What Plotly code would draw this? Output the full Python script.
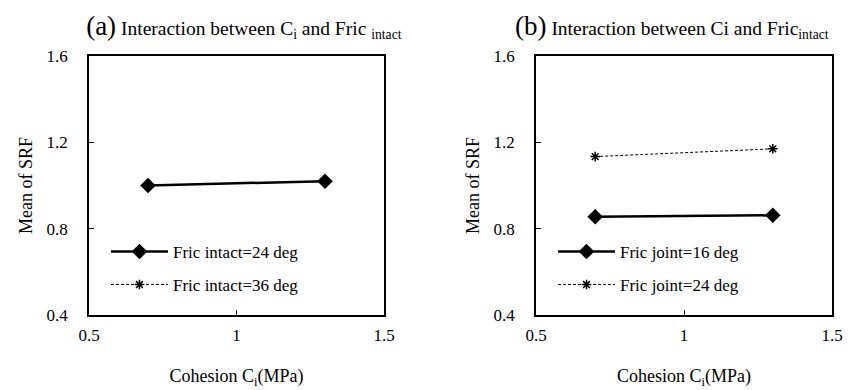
import plotly.graph_objects as go

cohesion = [0.7, 1.3]
a_fric24 = [1.00, 1.02]
a_fric36 = [1.00, 1.02]
b_joint16 = [0.855, 0.862]
b_joint24 = [1.134, 1.170]

x_ticks = [0.5, 1, 1.5]
y_ticks = [0.4, 0.8, 1.2, 1.6]

FONT = "Liberation Serif"
W, H = 854, 390
OFF = 8  # page body margin


def px(sx):
    return (sx - OFF) / W


def py(sy):
    return 1 - (sy - OFF) / H


fig = go.Figure()

solid = dict(color="black", width=2.5)
dashed = dict(color="black", width=1, dash="3px,2px")
diamond = dict(symbol="diamond", size=12, color="black")
star = dict(symbol="asterisk-open", size=8, color="black", line=dict(color="black", width=1.5))

fig.add_trace(go.Scatter(x=cohesion, y=a_fric36, mode="lines+markers", line=dashed, marker=star,
                         name="Fric intact=36 deg", xaxis="x", yaxis="y", legend="legend2"))
fig.add_trace(go.Scatter(x=cohesion, y=a_fric24, mode="lines+markers", line=solid, marker=diamond,
                         name="Fric intact=24 deg", xaxis="x", yaxis="y", legend="legend"))
fig.add_trace(go.Scatter(x=cohesion, y=b_joint16, mode="lines+markers", line=solid, marker=diamond,
                         name="Fric joint=16 deg", xaxis="x2", yaxis="y2", legend="legend3"))
fig.add_trace(go.Scatter(x=cohesion, y=b_joint24, mode="lines+markers", line=dashed, marker=star,
                         name="Fric joint=24 deg", xaxis="x2", yaxis="y2", legend="legend4"))
# empty carriers so the top (title) axes are drawn
fig.add_trace(go.Scatter(x=[None], y=[None], xaxis="x3", yaxis="y", showlegend=False, hoverinfo="skip"))
fig.add_trace(go.Scatter(x=[None], y=[None], xaxis="x4", yaxis="y2", showlegend=False, hoverinfo="skip"))

xtitle = "Cohesion C<sub>i</sub>(MPa)"
ytitle = "Mean of SRF"
title_a = ("&nbsp;&nbsp;&nbsp;<span style='font-size:27px'>(a)</span> "
           "Interaction between C<sub>i</sub> and Fric <sub>intact</sub>")
title_b = ("<span style='font-size:27px'>(b)</span> "
           "Interaction between Ci and Fric<sub>intact</sub>&nbsp;&nbsp;&nbsp;&nbsp;&nbsp;")


def xa(domain, anchor):
    return dict(domain=domain, anchor=anchor, range=[0.5, 1.5], tickvals=x_ticks,
                ticktext=["0.5", "1", "1.5"], ticks="inside", ticklen=5, tickwidth=1,
                tickcolor="black", showline=True, linecolor="black", linewidth=1.5, mirror=True,
                showgrid=False, zeroline=False, ticklabelstandoff=4, automargin=False,
                tickfont=dict(family=FONT, size=17, color="black"),
                title=dict(text=xtitle, standoff=25, font=dict(family=FONT, size=18, color="black")))


def ya(domain, anchor):
    return dict(domain=domain, anchor=anchor, range=[0.4, 1.6], tickvals=y_ticks,
                ticktext=["0.4", "0.8", "1.2", "1.6"], ticks="inside", ticklen=5, tickwidth=1,
                tickcolor="black", showline=True, linecolor="black", linewidth=1.5, mirror=True,
                showgrid=False, zeroline=False, ticklabelstandoff=16, automargin=False,
                tickfont=dict(family=FONT, size=17, color="black"),
                title=dict(text=ytitle, standoff=9, font=dict(family=FONT, size=18, color="black")))


def title_axis(over, anchor, text):
    return dict(overlaying=over, anchor=anchor, side="top", range=[0, 1], visible=True,
                showline=False, showticklabels=False, ticks="", showgrid=False, zeroline=False,
                automargin=False,
                title=dict(text=text, standoff=14, font=dict(family=FONT, size=19.5, color="black")))


ydom = [py(315), py(56)]
xa_dom = [px(89), px(384)]
xb_dom = [px(536), px(832)]


def leg(x, y):
    return dict(x=px(x), y=py(y), xanchor="left", yanchor="middle", xref="paper", yref="paper",
                bgcolor="rgba(0,0,0,0)", font=dict(family=FONT, size=17, color="black"),
                itemwidth=57)


fig.update_layout(
    width=W, height=H, margin=dict(l=0, r=0, t=0, b=0, autoexpand=False),
    paper_bgcolor="white", plot_bgcolor="white",
    xaxis=xa(xa_dom, "y"), yaxis=ya(ydom, "x"),
    xaxis2=xa(xb_dom, "y2"), yaxis2=ya(ydom, "x2"),
    xaxis3=title_axis("x", "y", title_a),
    xaxis4=title_axis("x2", "y2", title_b),
    showlegend=True,
    legend=leg(106, 252), legend2=leg(106, 285),
    legend3=leg(553, 252), legend4=leg(553, 285),
)

fig.write_html("out.html")
